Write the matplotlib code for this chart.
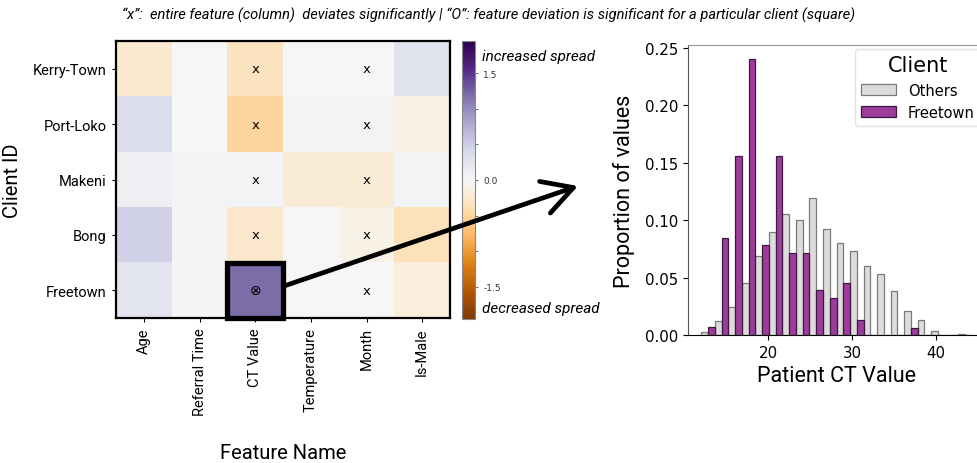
import numpy as np
import matplotlib
matplotlib.use("Agg")
import matplotlib.pyplot as plt
from matplotlib.patches import Rectangle, FancyArrowPatch

# ---------------- data ----------------
clients = ["Kerry-Town", "Port-Loko", "Makeni", "Bong", "Freetown"]
features = ["Age", "Referral Time", "CT Value", "Temperature", "Month", "Is-Male"]
# spread deviation (rows = clients, cols = features)
dev_kerry = [-0.23, 0.01, -0.32, 0.01, 0.01, 0.27]
dev_port = [0.34, 0.00, -0.50, 0.06, 0.06, -0.12]
dev_makeni = [0.10, 0.06, 0.05, -0.19, -0.19, 0.06]
dev_bong = [0.47, -0.02, -0.25, 0.01, -0.10, -0.36]
dev_freetown = [0.25, -0.02, 1.20, 0.01, 0.01, -0.16]
col_significant = ["CT Value", "Month"]
cell_significant = [("Freetown", "CT Value")]
cbar_ticks = [-1.5, -1.0, -0.5, 0.0, 0.5, 1.0, 1.5]
cbar_labels = ["-1.5", "", "", "0.0", "", "", "1.5"]
vlim = 1.95

bin_edges = [12.0, 13.62, 15.23, 16.85, 18.46, 20.08, 21.69, 23.31, 24.92, 26.54,
             28.15, 29.77, 31.38, 33.0, 34.61, 36.23, 37.84, 39.46, 41.07, 42.69, 44.3]
others = [0.003, 0.0125, 0.024, 0.045, 0.069, 0.090, 0.105, 0.100, 0.119, 0.092,
          0.080, 0.073, 0.060, 0.053, 0.038, 0.0206, 0.0128, 0.0032, 0.0003, 0.001]
freetown = [0.0067, 0.084, 0.156, 0.240, 0.078, 0.156, 0.0712, 0.0712, 0.039, 0.0326,
            0.0453, 0.0131, 0.0, 0.0, 0.0, 0.0064, 0.0, 0.0, 0.0, 0.0]

W, H = 977, 464
fig = plt.figure(figsize=(W / 100, H / 100), dpi=100)

def fx(px):
    return px / W

def fy(py):
    return 1 - py / H

# ---------------- heatmap ----------------
mat = np.array([dev_kerry, dev_port, dev_makeni, dev_bong, dev_freetown])
ax = fig.add_axes([fx(116), fy(319), fx(450) - fx(116), fy(42) - fy(319)])
im = ax.imshow(mat, cmap="PuOr", vmin=-vlim, vmax=vlim, aspect="auto",
               interpolation="nearest")
ax.set_xticks(range(len(features)))
ax.set_xticklabels(features, rotation=90, family="Roboto", fontsize=10.5)
ax.set_yticks(range(len(clients)))
ax.set_yticklabels(clients, family="Roboto", fontsize=10.5)
ax.tick_params(axis="both", length=3, width=0.8)
for s in ax.spines.values():
    s.set_linewidth(1.6)
ax.set_xlabel("Feature Name", family="Roboto", fontsize=14.5, labelpad=20)
ax.set_ylabel("Client ID", family="Roboto", fontsize=14.5, labelpad=8)

for i, c in enumerate(clients):
    for j, f in enumerate(features):
        if (c, f) in cell_significant:
            ax.text(j, i, "\u2297", ha="center", va="center", fontsize=10,
                    family="DejaVu Sans")
            ax.add_patch(Rectangle((j - 0.5, i - 0.5), 1, 1, fill=False,
                                   edgecolor="black", lw=3.8, clip_on=False, zorder=5))
        elif f in col_significant:
            ax.text(j, i, "x", ha="center", va="center", fontsize=9.5,
                    family="DejaVu Sans")

# ---------------- colorbar ----------------
cax = fig.add_axes([fx(462), fy(320), fx(475) - fx(462), fy(42) - fy(320)])
cb = fig.colorbar(im, cax=cax)
cb.set_ticks(cbar_ticks)
cb.set_ticklabels(cbar_labels)
cax.tick_params(labelsize=6.5, length=2.5, width=0.5, colors="#333333")
cb.outline.set_edgecolor("#888888")
cb.outline.set_linewidth(0.8)
fig.text(fx(482), fy(57), "increased spread", style="italic", family="Roboto",
         fontsize=11, va="center", ha="left")
fig.text(fx(482), fy(309), "decreased spread", style="italic", family="Roboto",
         fontsize=11, va="center", ha="left")

# ---------------- histogram ----------------
hx = fig.add_axes([fx(688), fy(336), fx(985) - fx(688), fy(46) - fy(336)])
edges = np.array(bin_edges)
widths = np.diff(edges) / 2
hx.bar(edges[:-1], others, width=widths, align="edge", color="#dcdcdc",
       edgecolor="#7a7a7a", linewidth=0.9, label="Others")
hx.bar(edges[:-1] + widths, freetown, width=widths, align="edge", color="#9e3c9c",
       edgecolor="#3d1a3d", linewidth=0.9, label="Freetown")
hx.set_xlim(10.4, 45.9)
hx.set_ylim(0, 0.2524)
hx.set_yticks([0, 0.05, 0.10, 0.15, 0.20, 0.25])
hx.set_xticks([20, 30, 40])
hx.tick_params(labelsize=10.8)
for lab in hx.get_xticklabels() + hx.get_yticklabels():
    lab.set_family("DejaVu Sans")
hx.spines["top"].set_color("#999999")
hx.spines["left"].set_color("#555555")
hx.set_xlabel("Patient CT Value", family="Roboto", fontsize=15.5, labelpad=4)
hx.set_ylabel("Proportion of values", family="Roboto", fontsize=15.5, labelpad=7)
leg = hx.legend(title="Client", loc="upper right", fontsize=10.5, title_fontsize=15,
                frameon=True, borderaxespad=0.3, handlelength=2.4, handleheight=0.8)
leg.get_frame().set_edgecolor("#dddddd")

# ---------------- title and arrow ----------------
fig.text(0.5, fy(15), "\u201cx\u201d:  entire feature (column)  deviates significantly | \u201cO\u201d: "
         "feature deviation is significant for a particular client (square)",
         ha="center", va="center", style="italic", family="Roboto", fontsize=10.5)

arr = FancyArrowPatch((fx(284), fy(287)), (fx(578), fy(187)), transform=fig.transFigure,
                      arrowstyle="->,head_length=1.8,head_width=1.0", lw=3.4,
                      color="black", mutation_scale=12, zorder=10,
                      shrinkA=0, shrinkB=0)
fig.add_artist(arr)

fig.savefig("out.png", dpi=100)
